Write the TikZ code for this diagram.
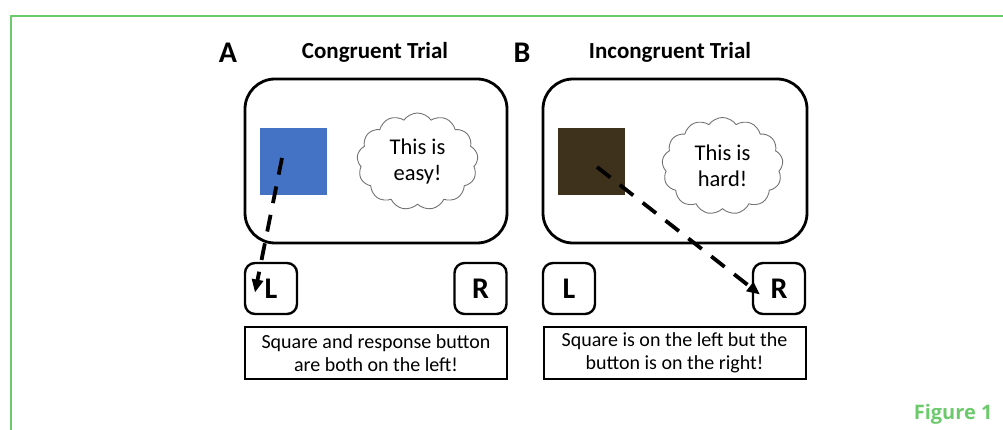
\documentclass[tikz,border=0pt]{standalone}
\usepackage{fontspec}
\setmainfont{Carlito}
\newfontfamily\figfont{Open Sans}
\usetikzlibrary{shapes.symbols,arrows.meta}
\definecolor{framegreen}{RGB}{108,201,108}
\definecolor{sqblue}{RGB}{68,114,196}
\definecolor{sqbrown}{RGB}{62,50,28}
\tikzset{
  panel/.style={draw=black, line width=2.8pt, rounded corners=30pt},
  btn/.style={draw=black, line width=2.4pt, rounded corners=10pt, minimum width=52pt, minimum height=51pt, inner sep=0pt, font=\fontsize{30}{34}\selectfont\bfseries},
  capbox/.style={draw=black, line width=2pt, minimum width=262pt, minimum height=52pt, inner sep=0pt, align=center, font=\fontsize{20}{23}\selectfont},
  thought/.style={cloud, cloud puffs=13, cloud puff arc=110, aspect=1.25, draw=black!55, line width=0.9pt, minimum width=121pt, minimum height=97pt, inner sep=0pt, align=center, font=\fontsize{22.5}{26}\selectfont},
  letter/.style={anchor=base, font=\fontsize{30}{32}\selectfont\bfseries},
  ttl/.style={anchor=base, font=\fontsize{23}{26}\selectfont\bfseries},
  gaze/.style={line width=3.8pt, dash pattern=on 17pt off 12pt, -{Triangle[length=13pt,width=11pt]}}
}
\begin{document}
\begin{tikzpicture}[x=1pt,y=-1pt]
\useasboundingbox (0,0) rectangle (1003,430);
% frame
\draw[framegreen, line width=2.6pt] (11,430) -- (11,16) -- (1003,16);
\node[anchor=base east, text=framegreen, font=\fontsize{20}{22}\selectfont\figfont\bfseries] (fig) at (996,419) {Figure 1};
% titles
\node[letter] (la) at (228,63) {A};
\node[ttl] (ta) at (375,59) {Congruent Trial};
\node[letter] (lb) at (522,63) {B};
\node[ttl] (tb) at (670,59) {Incongruent Trial};
% panel A
\draw[panel] (245,79) rectangle (507,243);
\node[fill=sqblue, minimum width=67pt, minimum height=67pt, inner sep=0pt] (sqa) at (293.5,161.5) {};
\node[thought] (ca) at (417.5,161.5) {This is\\easy!};
\node[btn] (la1) at (271,288.5) {L};
\node[btn] (ra1) at (480.5,288.5) {R};
\node[capbox] (capa) at (376,353) {Square and response button\\are both on the left!};
\coordinate (sa) at (282,158);
\draw[gaze] (sa) -- ([xshift=-16pt,yshift=-4pt]la1.center);
% panel B
\draw[panel] (543,79) rectangle (807,243);
\node[fill=sqbrown, minimum width=67pt, minimum height=67pt, inner sep=0pt] (sqb) at (591.5,161.5) {};
\node[thought] (cb) at (722.5,166) {This is\\hard!};
\node[btn] (lb1) at (569,288.5) {L};
\node[btn] (rb1) at (779,288.5) {R};
\node[capbox] (capb) at (674.5,353) {Square is on the left but the\\button is on the right!};
\coordinate (sb) at (597,167);
\draw[gaze] (sb) -- ([xshift=-19pt,yshift=-6pt]rb1.center);
\end{tikzpicture}
\end{document}
